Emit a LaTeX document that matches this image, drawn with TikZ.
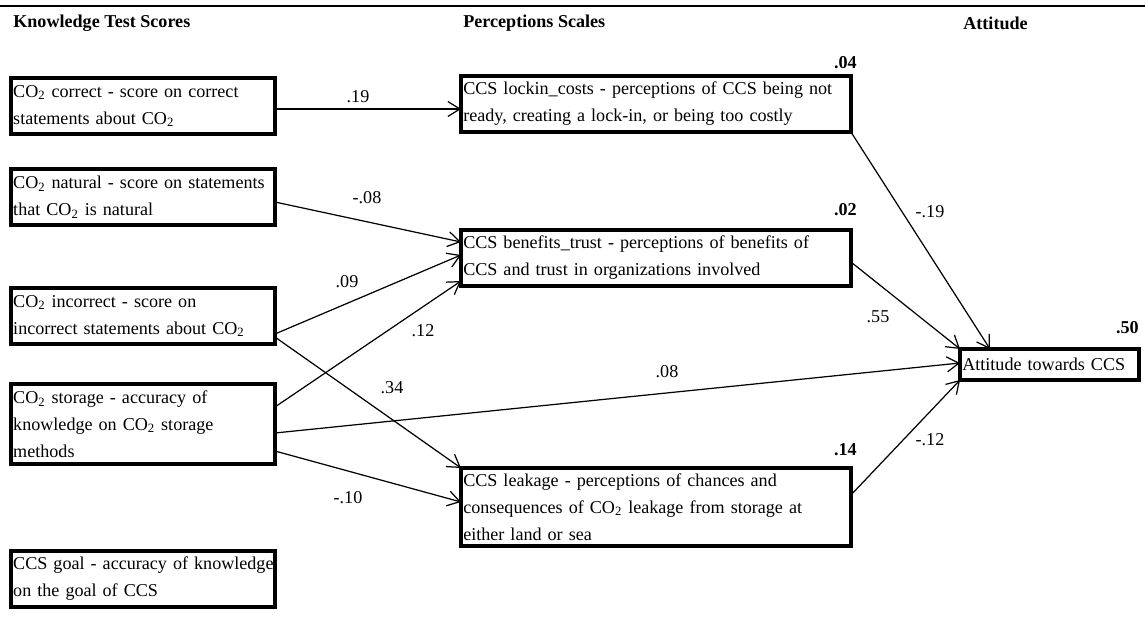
\documentclass[tikz,border=0pt]{standalone}
\usepackage{fontspec}
\setmainfont{Liberation Serif}
\usetikzlibrary{arrows.meta,calc}
\tikzset{
>={Straight Barb[length=0.24cm,width=0.3cm]},
  varbox/.style={
    rectangle,
    draw=black, line width=2.2pt,
    anchor=north west,
    outer sep=0pt, inner xsep=1.25pt, inner ysep=0pt,
    align=left,
    execute at begin node={\hyphenpenalty=10000},
    font=\fontsize{10.3}{15.3}\selectfont},
  knowbox/.style={varbox, minimum width=5.28cm, text width=5.19cm, minimum height=1.12cm},
  percbox/.style={varbox, minimum width=7.8cm, text width=7.71cm, minimum height=1.12cm},
  attbox/.style={varbox, minimum width=3.58cm, text width=3.49cm, minimum height=0.62cm},
  path/.style={draw, line width=0.7pt, ->},
  coef/.style={font=\fontsize{10.3}{12}\selectfont, inner sep=0pt},
  rsq/.style={font=\bfseries\fontsize{10.3}{12}\selectfont, inner sep=0pt, anchor=east},
  colhead/.style={font=\bfseries\fontsize{10.3}{12}\selectfont, inner sep=0pt, anchor=west},
}
\newcommand{\cotwo}{CO\textsubscript{2}}

\begin{document}
\begin{tikzpicture}[x=0.02cm, y=-0.02cm]
\useasboundingbox (0,0) rectangle (1145,626);
\draw[line width=1.2pt] (0,6) -- (1145,6);
\node[colhead] (h1) at (13,23) {Knowledge Test Scores};
\node[colhead] (h2) at (463,23) {Perceptions Scales};
\node[colhead] (h3) at (963,23) {Attitude};
% knowledge test scores
\node[knowbox] (cor) at (11,78) {\cotwo{} correct - score on correct\\statements about \cotwo};
\node[knowbox] (nat) at (11,169) {\cotwo{} natural - score on statements\\that \cotwo{} is natural};
\node[knowbox] (inc) at (11,288) {\cotwo{} incorrect - score on\\incorrect statements about \cotwo};
\node[knowbox, minimum height=1.6cm] (sto) at (11,384) {\cotwo{} storage - accuracy of\\knowledge on \cotwo{} storage\\methods};
\node[knowbox] (goal) at (11,551) {\mbox{CCS goal - accuracy of knowledge}\\on the goal of CCS};
% perceptions
\node[percbox] (lock) at (461,76) {CCS lockin\_costs - perceptions of CCS being not\\ready, creating a lock-in, or being too costly};
\node[percbox] (ben) at (461,230) {CCS benefits\_trust - perceptions of benefits of\\CCS and trust in organizations involved};
\node[percbox, minimum height=1.56cm] (leak) at (461,468) {CCS leakage - perceptions of chances and\\consequences of \cotwo{} leakage from storage at\\either land or sea};
% attitude
\node[attbox] (att) at (960,349) {Attitude towards CCS};
\node[rsq] (r1) at (857,63) {.04};
\node[rsq] (r2) at (857,210) {.02};
\node[rsq] (r3) at (857,450) {.14};
\node[rsq] (r4) at (1139,328) {.50};
% paths
\draw[path] ($(cor.east)+(0,3)$) -- ($(lock.west)+(0,5)$);
\draw[path] ($(nat.east)+(0,5)$) -- ($(ben.west)+(0,-16)$);
\draw[path] ($(inc.east)+(0,18)$) -- ($(ben.west)+(0,-3)$);
\draw[path] ($(sto.east)+(0,-17)$) -- ($(ben.west)+(0,23)$);
\draw[path] ($(inc.east)+(0,21)$) -- (leak.north west);
\draw[path] ($(sto.east)+(0,9)$) -- ($(att.west)+(0,-1.5)$);
\draw[path] ($(sto.east)+(0,27)$) -- ($(leak.west)+(0,-5)$);
\draw[path] (lock.south east) -- ($(att.north west)+(30,0)$);
\draw[path] ($(ben.east)+(0,4)$) -- (att.north west);
\draw[path] ($(leak.east)+(0,-12)$) -- (att.south west);
\foreach \px/\py/\val [count=\i] in {358/97/.19, 367/198/-.08, 347/282/.09, 423/331/.12,
    392/388/.34, 667/372/.08, 348/498/-.10, 930/212/-.19, 878/317/.55, 930/440/-.12}
  \node[coef] (c\i) at (\px,\py) {\val};
\end{tikzpicture}
\end{document}
